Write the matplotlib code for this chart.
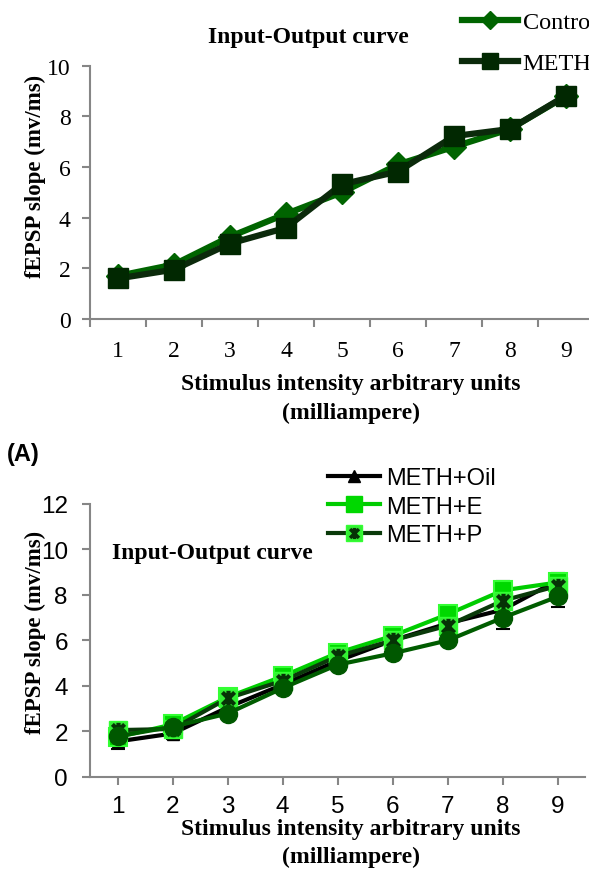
import numpy as np
import matplotlib
matplotlib.use("Agg")
import matplotlib.pyplot as plt
from matplotlib.path import Path
from matplotlib.lines import Line2D

# ---------------- data ----------------
intensity = [1, 2, 3, 4, 5, 6, 7, 8, 9]

# Panel 1
control = [1.7, 2.15, 3.25, 4.15, 5.0, 6.1, 6.8, 7.5, 8.8]
meth = [1.6, 1.95, 2.98, 3.6, 5.32, 5.82, 7.22, 7.5, 8.82]

# Panel 2
meth_oil = [1.55, 1.9, 3.05, 4.05, 5.1, 6.0, 6.75, 7.35, 8.65]
meth_oil_err = [0.35, 0.25, 0.2, 0.2, 0.2, 0.2, 0.2, 0.3, 0.3]
meth_e = [1.74, 2.3, 3.5, 4.42, 5.45, 6.2, 7.15, 8.2, 8.55]
meth_e_err = [0.2, 0.2, 0.2, 0.2, 0.2, 0.2, 0.2, 0.4, 0.2]
meth_p = [2.05, 2.1, 3.45, 4.22, 5.3, 6.0, 6.65, 7.75, 8.4]
meth_p_err = [0.2, 0.2, 0.2, 0.2, 0.2, 0.2, 0.2, 0.3, 0.2]
fourth = [1.78, 2.2, 2.78, 3.9, 4.93, 5.43, 6.0, 7.0, 7.93]
fourth_err = [0.2, 0.2, 0.2, 0.2, 0.2, 0.2, 0.2, 0.5, 0.47]

labels_top = ["Control", "METH"]
labels_bottom = ["METH+Oil", "METH+E", "METH+P"]
xtick_labels = [str(v) for v in intensity]

W, H = 589, 870
fig = plt.figure(figsize=(W / 100, H / 100), dpi=100)


def fx(x):
    return x / W


def fy(y):
    return 1 - y / H


SERIF = ["Liberation Serif", "DejaVu Serif"]
SANS = ["Liberation Sans", "DejaVu Sans"]
GRAY = "#868686"

# ---------------- top panel ----------------
ax1 = fig.add_axes([fx(90), fy(320), (594 - 90) / W, (320 - 66.7) / H])
ax1.plot(intensity, control, color="#006400", lw=4.5, marker="D", ms=12,
         mfc="#006400", mec="#006400", zorder=3, label=labels_top[0])
ax1.plot(intensity, meth, color="#0B2A0B", lw=4.5, marker="s", ms=15,
         mfc="#012801", mec="#012801", zorder=4, label=labels_top[1])
ax1.set_xlim(0.5, 9.5)
ax1.set_ylim(0, 10)
ax1.set_yticks(np.arange(0, 11, 2))
ax1.set_yticklabels([str(v) for v in range(0, 11, 2)], fontfamily=SERIF, fontsize=17)
ax1.set_xticks(np.arange(0.5, 9.6, 1))
ax1.set_xticklabels([])
ax1.set_xticks(intensity, minor=True)
ax1.set_xticklabels(xtick_labels, minor=True, fontfamily=SERIF, fontsize=17)
ax1.tick_params(axis="x", which="major", length=6, width=1.5, color=GRAY, direction="out")
ax1.tick_params(axis="x", which="minor", length=0, pad=15)
ax1.tick_params(axis="y", length=6, width=1.5, color=GRAY, direction="out", pad=8)
for s in ["top", "right"]:
    ax1.spines[s].set_visible(False)
for s in ["left", "bottom"]:
    ax1.spines[s].set_color(GRAY)
    ax1.spines[s].set_linewidth(1.5)

fig.text(fx(308), fy(38), "Input-Output curve", family=SERIF, weight="bold",
         fontsize=17, ha="center", va="center")
fig.text(fx(35), fy(176), "fEPSP slope (mv/ms)", family=SERIF, weight="bold",
         fontsize=16.5, ha="center", va="center", rotation=90)
fig.text(fx(351), fy(385), "Stimulus intensity arbitrary units", family=SERIF,
         weight="bold", fontsize=17, ha="center", va="center")
fig.text(fx(351), fy(413), "(milliampere)", family=SERIF,
         weight="bold", fontsize=17, ha="center", va="center")

h1, l1 = ax1.get_legend_handles_labels()
fig.legend(h1, l1, loc="upper left", bbox_to_anchor=(fx(462), fy(12)),
           frameon=False, prop={"family": SERIF, "size": 17.5},
           handlelength=2.3, handletextpad=0.2, labelspacing=0.8,
           markerscale=0.8, borderaxespad=0, borderpad=0)

fig.text(fx(23), fy(455), "(A)", family=SANS, weight="bold", fontsize=17,
         ha="center", va="center")

# ---------------- bottom panel ----------------
ax2 = fig.add_axes([fx(90), fy(777.7), (585 - 90) / W, (777.7 - 505) / H])

star = Path([(-1, -1), (1, 1), (-1, 1), (1, -1), (0, -1.25), (0, 1.25)],
            [Path.MOVETO, Path.LINETO, Path.MOVETO, Path.LINETO, Path.MOVETO, Path.LINETO])

eb = dict(ecolor="black", elinewidth=1.5, capsize=5, capthick=1.5, zorder=1)
ax2.errorbar(intensity, meth_oil, yerr=meth_oil_err, fmt="none", **eb)
ax2.errorbar(intensity, meth_e, yerr=meth_e_err, fmt="none", **eb)
ax2.errorbar(intensity, meth_p, yerr=meth_p_err, fmt="none", **eb)
ax2.errorbar(intensity, fourth, yerr=fourth_err, fmt="none", **eb)

ax2.plot(intensity, meth_oil, color="black", lw=3, marker="^", ms=9,
         mfc="black", mec="black", zorder=2)
ax2.plot(intensity, meth_e, color="#00CC00", lw=3, marker="s", ms=13,
         mfc="#00D800", mec="#33FF33", mew=1.5, zorder=3)
ax2.plot(intensity, meth_p, color="#0A3A0A", lw=3, marker="s", ms=13,
         mfc="#33EE33", mec="#33FF33", mew=1, zorder=4)
ax2.plot(intensity, meth_p, ls="none", marker=star, ms=11,
         mec="#063306", mew=3, zorder=5)
ax2.plot(intensity, fourth, color="#005C00", lw=3, marker="o", ms=13,
         mfc="#005800", mec="#005800", zorder=6)

ax2.set_xlim(0.5, 9.49)
ax2.set_ylim(0, 12)
ax2.set_yticks(np.arange(0, 13, 2))
ax2.set_yticklabels([str(v) for v in range(0, 13, 2)], fontfamily=SANS, fontsize=17.5)
ax2.set_xticks(intensity)
ax2.set_xticklabels(xtick_labels, fontfamily=SANS, fontsize=17.5)
ax2.tick_params(axis="x", length=6, width=1.5, color=GRAY, direction="out", pad=7)
ax2.tick_params(axis="y", length=6, width=1.5, color=GRAY, direction="out", pad=10)
for s in ["top", "right"]:
    ax2.spines[s].set_visible(False)
for s in ["left", "bottom"]:
    ax2.spines[s].set_color(GRAY)
    ax2.spines[s].set_linewidth(1.5)

fig.text(fx(112), fy(553), "Input-Output curve", family=SERIF, weight="bold",
         fontsize=17, ha="left", va="center")
fig.text(fx(35), fy(632), "fEPSP slope (mv/ms)", family=SERIF, weight="bold",
         fontsize=16.5, ha="center", va="center", rotation=90)
fig.text(fx(351), fy(830), "Stimulus intensity arbitrary units", family=SERIF,
         weight="bold", fontsize=17, ha="center", va="center")
fig.text(fx(351), fy(857), "(milliampere)", family=SERIF,
         weight="bold", fontsize=17, ha="center", va="center")

leg_p = (Line2D([], [], color="#0A3A0A", lw=3, marker="s", ms=11, mfc="#33EE33", mec="#33FF33"),
         Line2D([], [], ls="none", marker=star, ms=8, mec="#063306", mew=2.5))
leg_oil = Line2D([], [], color="black", lw=3, marker="^", ms=9, mfc="black")
leg_e = Line2D([], [], color="#00CC00", lw=3, marker="s", ms=11, mfc="#00D800", mec="#00D800")
fig.legend([leg_oil, leg_e, leg_p], labels_bottom, loc="upper left",
           bbox_to_anchor=(fx(328), fy(468)), frameon=False,
           prop={"family": SANS, "size": 17}, handlelength=2.2, handletextpad=0.25,
           labelspacing=0.28, borderaxespad=0, borderpad=0)

fig.savefig("out.png", dpi=100)
